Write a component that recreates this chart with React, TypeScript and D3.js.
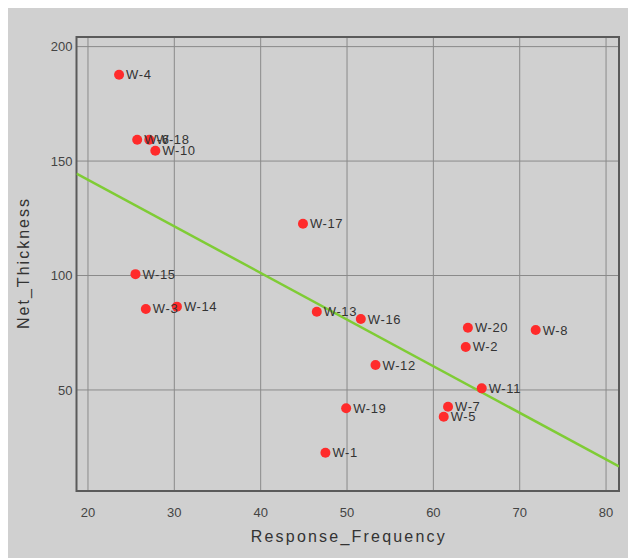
import React from "react";
import * as d3 from "d3";

const wells = ["W-4","W-6","W-18","W-10","W-17","W-15","W-3","W-14","W-13","W-16","W-12","W-19","W-1","W-7","W-5","W-11","W-2","W-20","W-8"];
const responseFrequency = [23.6,25.7,27.1,27.8,44.9,25.5,26.7,30.3,46.5,51.6,53.3,49.9,47.5,61.7,61.2,65.6,63.75,64.0,71.85];
const netThickness = [187.7,159.3,159.3,154.5,122.6,100.6,85.4,86.4,84.2,81.0,60.9,42.0,22.6,42.7,38.3,50.7,68.8,77.2,76.2];
const xTicks = [20,30,40,50,60,70,80];
const yTicks = [50,100,150,200];
const xDomain = [18.67, 81.5];
const yDomain = [5.86, 204.2];

export default function App() {
  const W = 620, H = 550;
  const left = 68.5, right = 611, top = 29, bottom = 483;
  const x = d3.scaleLinear().domain(xDomain).range([left, right]);
  const y = d3.scaleLinear().domain(yDomain).range([bottom, top]);

  const n = responseFrequency.length;
  const mx = d3.mean(responseFrequency) as number;
  const my = d3.mean(netThickness) as number;
  let sxy = 0, sxx = 0;
  for (let i = 0; i < n; i++) {
    sxy += (responseFrequency[i] - mx) * (netThickness[i] - my);
    sxx += (responseFrequency[i] - mx) ** 2;
  }
  const slope = sxy / sxx;
  const icpt = my - slope * mx;
  const line = d3.line<number>().x((d) => x(d)).y((d) => y(icpt + slope * d));

  const font = "Liberation Sans, Arial, sans-serif";
  return (
    <svg width={W} height={H} style={{ display: "block" }} fontFamily={font}>
      <defs>
        <clipPath id="plotclip">
          <rect x={left} y={top} width={right - left} height={bottom - top} />
        </clipPath>
      </defs>
      <rect x={0} y={0} width={W} height={H} fill="#d0d0d0" />
      {xTicks.map((t) => (
        <line key={"gx" + t} x1={x(t)} x2={x(t)} y1={top} y2={bottom} stroke="#8a8a8a" strokeWidth={1} />
      ))}
      {yTicks.map((t) => (
        <line key={"gy" + t} x1={left} x2={right} y1={y(t)} y2={y(t)} stroke="#8a8a8a" strokeWidth={1} />
      ))}
      <rect x={left} y={top} width={right - left} height={bottom - top} fill="none" stroke="#5a5a5a" strokeWidth={2} />
      <path d={line(xDomain) || ""} stroke="#7fcc35" strokeWidth={2.5} fill="none" clipPath="url(#plotclip)" />
      {wells.map((w, i) => (
        <g key={w}>
          <circle cx={x(responseFrequency[i])} cy={y(netThickness[i])} r={5} fill="#ff2b2b" />
        </g>
      ))}
      {wells.map((w, i) => (
        <text key={"l" + w} x={x(responseFrequency[i]) + 7} y={y(netThickness[i])} dy="0.35em" fontSize={13} fill="#333" letterSpacing={0.6}>
          {w}
        </text>
      ))}
      {xTicks.map((t) => (
        <text key={"tx" + t} x={x(t)} y={bottom + 21} dy="0.35em" textAnchor="middle" fontSize={13} fill="#444">
          {t}
        </text>
      ))}
      {yTicks.map((t) => (
        <text key={"ty" + t} x={left - 4} y={y(t)} dy="0.35em" textAnchor="end" fontSize={13} fill="#444">
          {t}
        </text>
      ))}
      <text x={(left + right) / 2} y={534} textAnchor="middle" fontSize={16} fill="#333" textLength={194} lengthAdjust="spacing">
        Response_Frequency
      </text>
      <text transform={`translate(21,${(top + bottom) / 2}) rotate(-90)`} textAnchor="middle" fontSize={16} fill="#333" textLength={130} lengthAdjust="spacing">
        Net_Thickness
      </text>
    </svg>
  );
}
